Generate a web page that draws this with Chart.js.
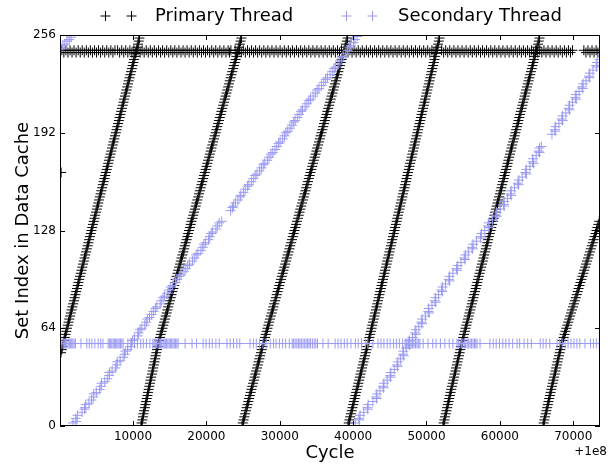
<!DOCTYPE html>
<html>
<head>
<meta charset="utf-8">
<title>Set index in data cache per cycle</title>
<script src="https://cdn.jsdelivr.net/npm/chart.js@4.4.1/dist/chart.umd.min.js"></script>
<style>
  html, body { margin: 0; padding: 0; background: #fff; }
  #wrap { width: 613px; height: 464px; }
</style>
</head>
<body>
<div id="wrap"><canvas id="chart" width="613" height="464"></canvas></div>
<script>
// Cache trace — cycles are offset by 1e8

const xTicks = [10000, 20000, 30000, 40000, 50000, 60000, 70000];
const yTicks = [0, 64, 128, 192, 256];

// set indices sampled along each primary sweep
const setIdx = [0, 4, 8, 12, 16, 20, 24, 28, 32, 36, 40, 44, 48, 52, 56, 60, 64, 68, 72, 76, 80, 84, 88, 92,
  96, 100, 104, 108, 112, 116, 120, 124, 128, 132, 136, 140, 144, 148, 152, 156, 160, 164, 168, 172, 176, 180,
  184, 188, 192, 196, 200, 204, 208, 212, 216, 220, 224, 228, 232, 236, 240, 244, 248, 252];
const setIdxMid = [2, 6, 10, 14, 18, 22, 26, 30, 34, 38, 42, 46, 50, 54, 58, 62, 66, 70, 74, 78, 82, 86, 90, 94,
  98, 102, 106, 110, 114, 118, 122, 126, 130, 134, 138, 142, 146, 150, 154, 158, 162, 166, 170, 174, 178, 182,
  186, 190, 194, 198, 202, 206, 210, 214, 218, 222, 226, 230, 234, 238, 242, 246, 250, 254];

// primary thread sweeps (cycle at each set index)
const p1X = [180, 390, 600, 800, 1010, 1220, 1430, 1630, 1840, 2050, 2260, 2470, 2670, 2880, 3090, 3300, 3500,
  3710, 3920, 4130, 4340, 4540, 4750, 4960, 5170, 5370, 5580, 5790, 6000, 6210, 6410, 6620, 6830, 7040, 7240,
  7450, 7660, 7870, 8080, 8280, 8490, 8700, 8910, 9110, 9320, 9530, 9740, 9950, 10150, 10360, 10570, 10780];
const p1XMid = [290, 500, 690, 910, 1120, 1320, 1530, 1740, 1950, 2150, 2370, 2560, 2780, 2990, 3190, 3400,
  3610, 3820, 4020, 4240, 4440, 4650, 4850, 5070, 5270, 5480, 5690, 5890, 6110, 6310, 6520, 6720, 6940, 7140,
  7350, 7550, 7770, 7970, 8180, 8390, 8600, 8800, 9010, 9220, 9420, 9640, 9840, 10050, 10260, 10460, 10680, 10880];
const p2X = [11090, 11270, 11430, 11620, 11780, 11970, 12130, 12320, 12480, 12670, 12830, 13020, 13180, 13370,
  13560, 13790, 14010, 14250, 14460, 14700, 14920, 15150, 15370, 15610, 15820, 16060, 16280, 16510, 16730, 16970,
  17180, 17420, 17640, 17870, 18090, 18320, 18550, 18770, 19000, 19230, 19450, 19680, 19910, 20130, 20360, 20590,
  20810, 21040, 21270, 21490, 21720, 21950, 22170, 22400, 22630, 22850, 23080, 23310, 23530, 23760, 23990, 24210,
  24440, 24670];
const p2XMid = [11170, 11360, 11520, 11700, 11880, 12050, 12230, 12390, 12580, 12740, 12930, 13090, 13280, 13460,
  13680, 13900, 14130, 14350, 14590, 14800, 15040, 15250, 15500, 15710, 15940, 16170, 16400, 16610, 16860, 17070,
  17310, 17520, 17760, 17970, 18210, 18440, 18650, 18890, 19110, 19340, 19570, 19790, 20020, 20250, 20470, 20700,
  20930, 21150, 21380, 21610, 21830, 22060, 22290, 22510, 22740, 22970, 23190, 23420, 23650, 23870, 24100, 24330,
  24550, 24780];
const p3X = [24860, 25070, 25290, 25500, 25720, 25930, 26150, 26360, 26580, 26790, 27010, 27220, 27440, 27650,
  27870, 28100, 28330, 28560, 28790, 29020, 29250, 29480, 29710, 29940, 30170, 30400, 30630, 30860, 31090, 31320,
  31550, 31780, 32010, 32240, 32470, 32700, 32930, 33160, 33390, 33620, 33850, 34080, 34310, 34540, 34770, 35000,
  35230, 35460, 35690, 35920, 36150, 36380, 36610, 36840, 37070, 37300, 37530, 37760, 37990, 38220, 38450, 38680,
  38910, 39140];
const p3XMid = [24960, 25180, 25390, 25610, 25820, 26040, 26250, 26470, 26680, 26900, 27110, 27330, 27540, 27760,
  27990, 28210, 28450, 28670, 28910, 29130, 29370, 29590, 29830, 30050, 30290, 30510, 30750, 30970, 31210, 31430,
  31670, 31890, 32130, 32350, 32590, 32810, 33050, 33270, 33510, 33730, 33970, 34190, 34430, 34650, 34890, 35110,
  35350, 35570, 35810, 36030, 36270, 36490, 36730, 36950, 37190, 37410, 37650, 37870, 38110, 38330, 38570, 38790,
  39030, 39250];
const p4X = [39300, 39500, 39700, 39910, 40110, 40310, 40510, 40720, 40920, 41120, 41320, 41520, 41720, 41930,
  42130, 42320, 42520, 42710, 42910, 43100, 43300, 43490, 43690, 43880, 44080, 44270, 44470, 44660, 44860, 45050,
  45250, 45440, 45640, 45830, 46030, 46220, 46420, 46610, 46810, 47000, 47200, 47390, 47590, 47780, 47980, 48170,
  48370, 48560, 48760, 48950, 49150, 49340, 49540, 49730, 49930, 50120, 50320, 50510, 50710, 50900, 51100, 51290,
  51490, 51680];
const p4XMid = [39400, 39600, 39810, 40010, 40210, 40410, 40620, 40820, 41020, 41220, 41420, 41620, 41830, 42030,
  42220, 42420, 42610, 42810, 43000, 43200, 43390, 43590, 43780, 43980, 44170, 44370, 44560, 44760, 44950, 45150,
  45340, 45540, 45730, 45930, 46120, 46320, 46510, 46710, 46900, 47100, 47290, 47490, 47680, 47880, 48070, 48270,
  48460, 48660, 48850, 49050, 49240, 49440, 49630, 49830, 50020, 50220, 50410, 50610, 50800, 51000, 51190, 51390,
  51580, 51780];
const p5X = [52250, 52440, 52630, 52820, 53010, 53190, 53380, 53570, 53760, 53950, 54140, 54330, 54520, 54710,
  54910, 55120, 55330, 55550, 55760, 55970, 56180, 56390, 56610, 56820, 57030, 57240, 57450, 57670, 57880, 58090,
  58300, 58510, 58730, 58940, 59150, 59360, 59570, 59790, 60000, 60210, 60420, 60630, 60850, 61060, 61270, 61480,
  61690, 61910, 62120, 62330, 62540, 62750, 62970, 63180, 63390, 63600, 63810, 64030, 64240, 64450, 64660, 64870,
  65090, 65300];
const p5XMid = [52340, 52530, 52720, 52910, 53100, 53290, 53470, 53660, 53850, 54040, 54230, 54420, 54610, 54810,
  55010, 55230, 55440, 55650, 55860, 56070, 56290, 56500, 56710, 56920, 57140, 57350, 57560, 57770, 57990, 58200,
  58410, 58620, 58830, 59050, 59260, 59470, 59680, 59890, 60110, 60320, 60530, 60740, 60960, 61170, 61380, 61590,
  61800, 62020, 62230, 62440, 62650, 62860, 63080, 63290, 63500, 63710, 63920, 64140, 64350, 64560, 64770, 64980,
  65200, 65410];
const p6X = [65880, 66070, 66260, 66450, 66640, 66820, 67010, 67200, 67390, 67580, 67770, 67960, 68150, 68340,
  68560, 68820, 69070, 69330, 69580, 69840, 70100, 70350, 70610, 70860, 71120, 71380, 71630, 71890, 72140, 72400,
  72660, 72910, 73170, 73420];
const p6XMid = [65970, 66160, 66350, 66540, 66730, 66920, 67100, 67290, 67480, 67670, 67860, 68050, 68240, 68440,
  68690, 68940, 69200, 69450, 69710, 69970, 70220, 70480, 70730, 70990, 71250, 71500, 71760, 72010, 72270, 72530,
  72780, 73040, 73290, 73550];

// primary thread: the two sets it keeps hitting near the top
const primaryBandSet = 246;
const primaryBandX = [300, 850, 1420, 1960, 2530, 3080, 3640, 4190, 4760, 5300, 5870, 6420, 6980, 7540,
  7900, 8460, 9010, 9580, 10120, 10690, 11240, 11800, 12360, 12910, 13480, 14030, 14590, 15150, 15700, 16260,
  16820, 17370, 17940, 18490, 19050, 19610, 20160, 20730, 21280, 21840, 22390, 22960, 23340,
  23920, 24480, 25030, 25600, 26150, 26710, 27260, 27830, 28380, 28940, 29500, 30050, 30620, 31170, 31730,
  32280, 32850, 33400, 33960, 34520, 35070, 35640, 36190, 36750, 37300, 37870, 38420,
  39020, 39580, 40130, 40700, 41250, 41810, 42360, 42930, 43480, 44040, 44600, 45150, 45720, 46270, 46830,
  47380, 47950, 48500, 49060, 49620, 50170, 50740, 51290,
  52060, 52620, 53170, 53740, 54290, 54850, 55400, 55970, 56520, 57080, 57640, 58190, 58760, 59310, 59870,
  60420, 60990, 61540, 62100, 62660, 63210, 63780, 64330, 64890, 65440, 66010, 66560, 67120, 67680, 68230,
  68800, 69350, 69900,
  71450, 72010, 72560, 73120, 73600];
const primaryBandSet2 = 244.5;
const primaryBandX2 = [575, 1135, 1690, 2245, 2805, 3360, 3915, 4475, 5030, 5585, 6145, 6700, 7260,
  8180, 8735, 9295, 9850, 10405, 10965, 11520, 12080, 12635, 13195, 13755, 14310, 14870, 15425, 15980, 16540,
  17095, 17655, 18215, 18770, 19330, 19885, 20445, 21005, 21560, 22115, 22675, 23150,
  24200, 24755, 25315, 25875, 26430, 26985, 27545, 28105, 28660, 29220, 29775, 30335, 30895, 31450, 32005,
  32565, 33125, 33680, 34240, 34795, 35355, 35915, 36470, 37025, 37585, 38145,
  39300, 39855, 40415, 40975, 41530, 42085, 42645, 43205, 43760, 44320, 44875, 45435, 45995, 46550, 47105,
  47665, 48225, 48780, 49340, 49895, 50455, 51015,
  52340, 52895, 53455, 54015, 54570, 55125, 55685, 56245, 56800, 57360, 57915, 58475, 59035, 59590, 60145,
  60705, 61265, 61820, 62380, 62935, 63495, 64055, 64610, 65165, 65725, 66285, 66840, 67400, 67955, 68515,
  69075, 69625,
  71730, 72285, 72840, 73360];
const primaryLoneX = [200];
const primaryLoneY = [166];

// secondary thread sweeps
const secAY = [2, 5, 9, 12, 15, 19, 22, 26, 29, 33, 36, 40, 43, 47, 50, 54, 57, 61, 64, 68, 71, 75, 78, 82, 85,
  89, 92, 96, 99, 103, 106, 110, 113, 117, 120, 124, 127, 131, 134, 141, 144, 148, 151, 155, 158, 162, 165, 169,
  172, 176, 179, 183, 186, 190, 193, 197, 200, 204, 207, 211, 214, 218, 221, 225, 228, 232, 235, 239, 242, 246,
  249, 253, 255];
const secAX = [1830, 2200, 3050, 3450, 4000, 4600, 5000, 5650, 6150, 6750, 7150, 7800, 8250, 8850, 9250, 9800,
  10200, 10750, 11200, 11800, 12250, 12800, 13250, 13850, 14300, 14900, 15400, 16000, 16550, 17200, 17700,
  18350, 18850, 19500, 19900, 20450, 20850, 21500, 22100, 23300, 23700, 24300, 24700, 25300, 25800, 26400,
  26900, 27500, 27950, 28550, 29050, 29600, 30050, 30650, 31100, 31650, 32100, 32650, 33100, 33700, 34200,
  34850, 35350, 36000, 36500, 37150, 37600, 38200, 38650, 39250, 39700, 40250, 40550];
const secA2Y = [3, 7, 11, 14, 17, 21, 24, 28, 31, 35, 38, 42, 45, 49, 52, 56, 59, 63, 66, 70, 73, 77, 80, 84, 87,
  91, 94, 98, 101, 105, 108, 112, 115, 119, 122, 126, 129, 133, 143, 146, 150, 153, 157, 160, 164, 167, 171,
  174, 178, 181, 185, 188, 192, 195, 199, 202, 206, 209, 213, 216, 220, 223, 227, 230, 234, 237, 241, 244, 248, 251];
const secA2X = [2250, 2450, 3400, 3550, 4350, 4650, 5450, 5700, 6500, 6800, 7600, 7850, 8650, 8950, 9700, 9950,
  10650, 10950, 11600, 11950, 12550, 13050, 13700, 14100, 14750, 15150, 15800, 16300, 16950, 17450, 18100,
  18600, 19250, 19650, 20300, 20650, 21300, 21750, 23550, 23950, 24600, 25050, 25600, 26150, 26650, 27250,
  27750, 28300, 28800, 29350, 29850, 30400, 30850, 31400, 31900, 32400, 32900, 33450, 33950, 34550, 35100,
  35700, 36250, 36850, 37400, 37950, 38450, 39000, 39500, 40050];
const secBY = [2, 5, 9, 12, 16, 19, 23, 26, 30, 33, 37, 40, 44, 47, 51, 54, 58, 61, 65, 68, 72, 75, 79, 82, 86,
  89, 93, 96, 100, 103, 107, 110, 114, 117, 121, 124, 128, 131, 135, 138, 142, 145, 149, 152, 156, 159, 163,
  166, 170, 173, 177, 180, 183, 191, 194, 198, 201, 205, 208, 212, 215, 219, 222, 226, 229, 233, 236, 240, 243];
const secBX = [40300, 40800, 41450, 41950, 42700, 43150, 43650, 44100, 44650, 45050, 45600, 46000, 46450, 46800,
  47250, 47600, 48100, 48450, 48950, 49300, 49850, 50250, 50750, 51150, 51650, 52050, 52600, 53050, 53600,
  54100, 54700, 55150, 55700, 56200, 56800, 57350, 57950, 58400, 59000, 59450, 60050, 60500, 61050, 61450,
  62000, 62450, 63050, 63500, 64100, 64450, 64950, 65300, 65650, 67100, 67500, 68050, 68450, 69000, 69400,
  69900, 70300, 70800, 71200, 71750, 72150, 72700, 73150, 73600, 74000];
const secB2Y = [4, 7, 11, 14, 18, 21, 25, 28, 32, 35, 39, 42, 46, 49, 53, 56, 60, 63, 67, 70, 74, 77, 81, 84, 88,
  91, 95, 98, 102, 105, 109, 112, 116, 119, 123, 126, 130, 133, 137, 140, 144, 147, 151, 154, 158, 161, 165,
  168, 172, 175, 179, 182, 193, 196, 200, 203, 207, 210, 214, 217, 221, 224, 228, 231, 235, 238, 242];
const secB2X = [40850, 40950, 42000, 42050, 43200, 43250, 44150, 44200, 45100, 45150, 46050, 46100, 46900, 46850,
  47700, 47650, 48550, 48550, 49400, 49400, 50350, 50300, 51250, 51250, 52150, 52200, 53150, 53150, 54200,
  54250, 55250, 55300, 56300, 56350, 57400, 57500, 58500, 58500, 59550, 59550, 60600, 60600, 61550, 61550,
  62550, 62600, 63600, 63600, 64600, 64500, 65400, 65400, 67550, 67600, 68550, 68550, 69500, 69500, 70400,
  70400, 71300, 71350, 72200, 72250, 73200, 73250, 74000];
// tail of an earlier sweep, top left
const secTailX = [150, 450, 700, 1000, 1300, 1550];
const secTailY = [247, 249, 250, 252, 253, 254.5];

// secondary thread: the set it keeps hitting near the bottom
const secondaryBandSet = 54;
const secondaryBandX = [150, 500, 800, 1150, 1500, 1800, 2150, 3700, 4050, 4400, 4800, 5250, 5600, 5900,
  6600, 6950, 7300, 7600, 7950, 8300, 8650, 9300, 9750, 10200, 10600, 11050, 11400, 11850, 12300,
  12700, 13050, 13400, 13750, 14100, 14400, 14750, 15100, 15450, 15800, 16150, 18050, 18650,
  19550, 19950, 20400, 20800, 21300, 21750, 22800, 23250, 23700, 24150, 24550, 25950, 26400, 26800, 27250,
  27700, 28150, 28700, 29150, 29500, 29950, 30400, 30800, 31300, 31700, 32100, 32550, 32950, 33400, 33800,
  34200, 34700, 35150, 35900, 36600, 37550, 37950, 38350, 38800, 39200, 39700, 40300, 40700, 41150, 41650,
  42000, 42700, 43400, 43800, 44200, 44650, 45050, 45500, 45900, 46300, 46750, 47100, 47500, 47900, 48300,
  48700, 49100, 49550, 50200, 50850, 51300, 51900, 52500, 53100, 53600, 54150, 54550, 54950, 55350, 55750,
  56150, 56550, 56900, 57300, 58650, 59100, 59500, 59950, 60400, 60800, 61250, 61750, 62350, 62700, 63300,
  63800, 64300, 65500, 65900, 66300, 66800, 67800, 68150, 68500, 68900, 69300, 69700, 70100, 70500, 70900,
  72350, 72750, 73150, 73550];
const secondaryBandX2 = [320, 650, 980, 1320, 1650, 1980, 2900, 6780, 7120, 7450, 7780, 8120, 8480, 12880,
  13230, 13580, 13920, 14250, 14580, 14920, 15270, 15620, 15980, 17100, 31900, 32330, 32750, 33180, 33600,
  34000, 34450, 34920, 47300, 47700, 48100, 48500, 48900, 54350, 54750, 55150, 55550, 55950, 56350, 56720, 71600];

const FONT = "'DejaVu Sans', sans-serif";
const primaryColor = '#000000';
const secondaryColor = '#9a9af2';
const TICK = 5;

function pts(xs, ys) { return xs.map((x, i) => ({ x, y: ys[i] })); }
function row(xs, y) { return xs.map(x => ({ x, y })); }

const primary = [
  ...pts(p1X, setIdx.slice(12)), ...pts(p1XMid, setIdxMid.slice(12)),
  ...pts(p2X, setIdx), ...pts(p2XMid, setIdxMid),
  ...pts(p3X, setIdx), ...pts(p3XMid, setIdxMid),
  ...pts(p4X, setIdx), ...pts(p4XMid, setIdxMid),
  ...pts(p5X, setIdx), ...pts(p5XMid, setIdxMid),
  ...pts(p6X, setIdx.slice(0, 34)), ...pts(p6XMid, setIdxMid.slice(0, 34)),
  ...row(primaryBandX, primaryBandSet), ...row(primaryBandX2, primaryBandSet2),
  ...pts(primaryLoneX, primaryLoneY)
];
const secondary = [
  ...pts(secTailX, secTailY),
  ...pts(secAX, secAY), ...pts(secA2X, secA2Y),
  ...pts(secBX, secBY), ...pts(secB2X, secB2Y),
  ...row(secondaryBandX, secondaryBandSet), ...row(secondaryBandX2, secondaryBandSet)
];

// box round the plot, ticks pointing inward on all four sides
const framePlugin = {
  id: 'frame',
  afterDatasetsDraw(chart) {
    const { ctx, chartArea: a, scales: { x, y } } = chart;
    ctx.save();
    ctx.strokeStyle = '#000';
    ctx.lineWidth = 1;
    ctx.beginPath();
    xTicks.forEach(v => {
      const px = Math.round(x.getPixelForValue(v)) + 0.5;
      ctx.moveTo(px, a.bottom); ctx.lineTo(px, a.bottom - TICK);
      ctx.moveTo(px, a.top); ctx.lineTo(px, a.top + TICK);
    });
    yTicks.forEach(v => {
      const py = Math.round(y.getPixelForValue(v)) + 0.5;
      ctx.moveTo(a.left, py); ctx.lineTo(a.left + TICK, py);
      ctx.moveTo(a.right, py); ctx.lineTo(a.right - TICK, py);
    });
    ctx.stroke();
    ctx.strokeRect(a.left + 0.5, a.top + 0.5, a.right - a.left - 1, a.bottom - a.top - 1);
    ctx.restore();
  }
};

// legend with two markers per entry, and the axis offset text
const legendItems = [
  { text: 'Primary Thread', color: primaryColor, marks: [105.5, 131.5], textX: 155 },
  { text: 'Secondary Thread', color: secondaryColor, marks: [346.5, 372.5], textX: 398 }
];
const legendPlugin = {
  id: 'pairLegend',
  afterDraw(chart) {
    const ctx = chart.ctx;
    const ly = 16;
    ctx.save();
    legendItems.forEach(it => {
      ctx.strokeStyle = it.color;
      ctx.lineWidth = 1;
      ctx.beginPath();
      it.marks.forEach(mx => {
        ctx.moveTo(mx - 5, ly); ctx.lineTo(mx + 5, ly);
        ctx.moveTo(mx, ly - 5); ctx.lineTo(mx, ly + 5);
      });
      ctx.stroke();
      ctx.fillStyle = '#000';
      ctx.font = '18px ' + FONT;
      ctx.textAlign = 'left';
      ctx.textBaseline = 'middle';
      ctx.fillText(it.text, it.textX, ly);
    });
    ctx.font = '12px ' + FONT;
    ctx.textAlign = 'right';
    ctx.textBaseline = 'middle';
    ctx.fillText('+1e8', 607, 452);
    ctx.restore();
  }
};

new Chart(document.getElementById('chart'), {
  type: 'scatter',
  data: {
    datasets: [
      { label: 'Primary Thread', data: primary, borderColor: primaryColor, backgroundColor: primaryColor, order: 1, clip: 0 },
      { label: 'Secondary Thread', data: secondary, borderColor: secondaryColor, backgroundColor: secondaryColor, order: 0, clip: 0 }
    ]
  },
  options: {
    responsive: false,
    animation: false,
    events: [],
    layout: { padding: { top: 35, right: 13, left: 0, bottom: 0 } },
    elements: { point: { pointStyle: 'cross', radius: 5, hoverRadius: 5, borderWidth: 1 } },
    plugins: { legend: { display: false }, tooltip: { enabled: false } },
    scales: {
      x: {
        type: 'linear', min: 50, max: 73650,
        afterBuildTicks: s => { s.ticks = xTicks.map(v => ({ value: v })); },
        afterFit: s => { s.height = 38; },
        grid: { display: false, drawTicks: false },
        border: { display: false },
        ticks: { color: '#000', font: { family: FONT, size: 12 }, padding: 4, maxRotation: 0, autoSkip: false,
          callback: v => String(v) },
        title: { display: true, text: 'Cycle', color: '#000', font: { family: FONT, size: 18, lineHeight: 1 },
          padding: { top: 0, bottom: 2 } }
      },
      y: {
        type: 'linear', min: 0, max: 256,
        afterBuildTicks: s => { s.ticks = yTicks.map(v => ({ value: v })); },
        afterFit: s => { s.width = 60; },
        grid: { display: false, drawTicks: false },
        border: { display: false },
        ticks: { color: '#000', font: { family: FONT, size: 12 }, padding: 4, autoSkip: false,
          callback: v => String(v) },
        title: { display: true, text: 'Set Index in Data Cache', color: '#000',
          font: { family: FONT, size: 18, lineHeight: 1 }, padding: { top: 14, bottom: 0 } }
      }
    }
  },
  plugins: [framePlugin, legendPlugin]
});
</script>
</body>
</html>
